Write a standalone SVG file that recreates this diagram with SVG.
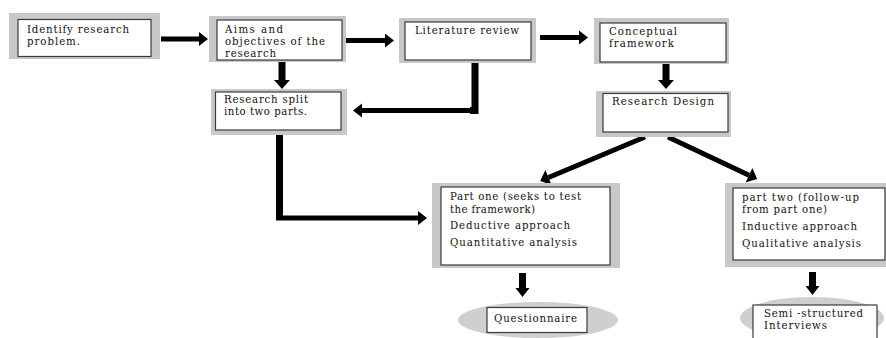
<svg xmlns="http://www.w3.org/2000/svg" width="886" height="338" viewBox="0 0 886 338">
<style>
.frame{fill:#c8c8c8;}
.inner{fill:#ffffff;stroke:#3a3a3a;stroke-width:1.2;}
.oval{fill:#cfcfcf;}
text{font-family:"DejaVu Serif","Liberation Serif",serif;font-size:10.2px;fill:#111111;}
.sh{stroke:#000;stroke-width:5;fill:none;}
.sv{stroke:#000;stroke-width:7;fill:none;}
</style>
<defs>
<marker id="ah" markerUnits="userSpaceOnUse" markerWidth="10" markerHeight="14" refX="0" refY="7" orient="auto" overflow="visible">
<path d="M0,0 L9,7 L0,14 Z" fill="#000"/>
</marker>
<marker id="ahd" markerUnits="userSpaceOnUse" markerWidth="12" markerHeight="16" refX="0" refY="8" orient="auto" overflow="visible">
<path d="M0,0 L9,8 L0,16 Z" fill="#000"/>
</marker>
</defs>
<rect width="886" height="338" fill="#ffffff"/>

<g id="connectors">
<line class="sh" x1="161" y1="39" x2="199" y2="39" marker-end="url(#ah)"/>
<line class="sh" x1="345" y1="40.5" x2="385" y2="40.5" marker-end="url(#ah)"/>
<line class="sh" x1="540" y1="37.5" x2="579" y2="37.5" marker-end="url(#ah)"/>
<line class="sv" x1="282" y1="62" x2="282" y2="80" marker-end="url(#ahd)"/>
<line class="sv" x1="666" y1="64" x2="666" y2="80" marker-end="url(#ahd)"/>
<polyline class="sv" points="475,63 475,110.5 470,110.5"/>
<line class="sh" x1="476" y1="110.5" x2="362" y2="110.5" marker-end="url(#ah)"/>
<line class="sv" x1="279.5" y1="135" x2="279.5" y2="218"/>
<line class="sh" x1="276" y1="218" x2="418" y2="218" marker-end="url(#ah)"/>
<line class="sh" x1="645" y1="137" x2="548.5" y2="177.5" marker-end="url(#ahd)"/>
<line class="sh" x1="668" y1="137" x2="749" y2="175.2" marker-end="url(#ahd)"/>
<line class="sv" x1="522.5" y1="273" x2="522.5" y2="288" marker-end="url(#ah)"/>
<line class="sv" x1="812.5" y1="272" x2="812.5" y2="286" marker-end="url(#ah)"/>
</g>

<g id="n1">
<rect class="frame" x="9" y="13" width="151" height="46"/>
<rect class="inner" x="18" y="19.5" width="133" height="37"/>
<text x="27" y="33" textLength="102">Identify research</text>
<text x="27" y="45" textLength="53">problem.</text>
</g>

<g id="n2">
<rect class="frame" x="209" y="16" width="137" height="46"/>
<rect class="inner" x="217" y="20" width="125" height="40"/>
<text x="225" y="32.5" textLength="58">Aims and</text>
<text x="225" y="44.5" textLength="100">objectives of the</text>
<text x="225" y="56.5" textLength="51">research</text>
</g>

<g id="n3">
<rect class="frame" x="211" y="89" width="136" height="46"/>
<rect class="inner" x="215.5" y="92" width="125.5" height="38"/>
<text x="224" y="103" textLength="84">Research split</text>
<text x="224" y="115" textLength="83">into two parts.</text>
</g>

<g id="n4">
<rect class="frame" x="399" y="18" width="137" height="45"/>
<rect class="inner" x="405" y="22" width="126" height="38"/>
<text x="415" y="34" textLength="104">Literature review</text>
</g>

<g id="n5">
<rect class="frame" x="594" y="18" width="135" height="46"/>
<rect class="inner" x="600" y="23" width="126" height="39"/>
<text x="609" y="34.5" textLength="68">Conceptual</text>
<text x="609" y="46.5" textLength="65">framework</text>
</g>

<g id="n6">
<rect class="frame" x="596" y="91" width="135" height="46"/>
<rect class="inner" x="603" y="93.5" width="125" height="38.5"/>
<text x="612" y="105" textLength="102">Research Design</text>
</g>

<g id="n7">
<rect class="frame" x="432" y="183" width="188" height="85"/>
<rect class="inner" x="441" y="187" width="169" height="78"/>
<text x="450" y="200" textLength="131">Part one (seeks to test</text>
<text x="450" y="212.5" textLength="85">the framework)</text>
<text x="450" y="229" textLength="120">Deductive approach</text>
<text x="450" y="245.5" textLength="127">Quantitative analysis</text>
</g>

<g id="n8">
<rect class="frame" x="725" y="183" width="161" height="84"/>
<rect class="inner" x="733" y="188" width="152" height="72"/>
<text x="742" y="201" textLength="117">part two (follow-up</text>
<text x="742" y="213" textLength="85">from part one)</text>
<text x="742" y="230" textLength="115">Inductive approach</text>
<text x="742" y="246.5" textLength="119">Qualitative analysis</text>
</g>

<g id="n9">
<ellipse class="oval" cx="538" cy="320" rx="80" ry="18"/>
<rect class="inner" x="487" y="307.5" width="100" height="25"/>
<text x="494" y="322" textLength="83">Questionnaire</text>
</g>

<g id="n10">
<ellipse class="oval" cx="812" cy="318" rx="72" ry="21"/>
<rect class="inner" x="753" y="305" width="124" height="34"/>
<text x="764" y="317" textLength="99">Semi -structured</text>
<text x="764" y="329" textLength="63">Interviews</text>
</g>
</svg>
